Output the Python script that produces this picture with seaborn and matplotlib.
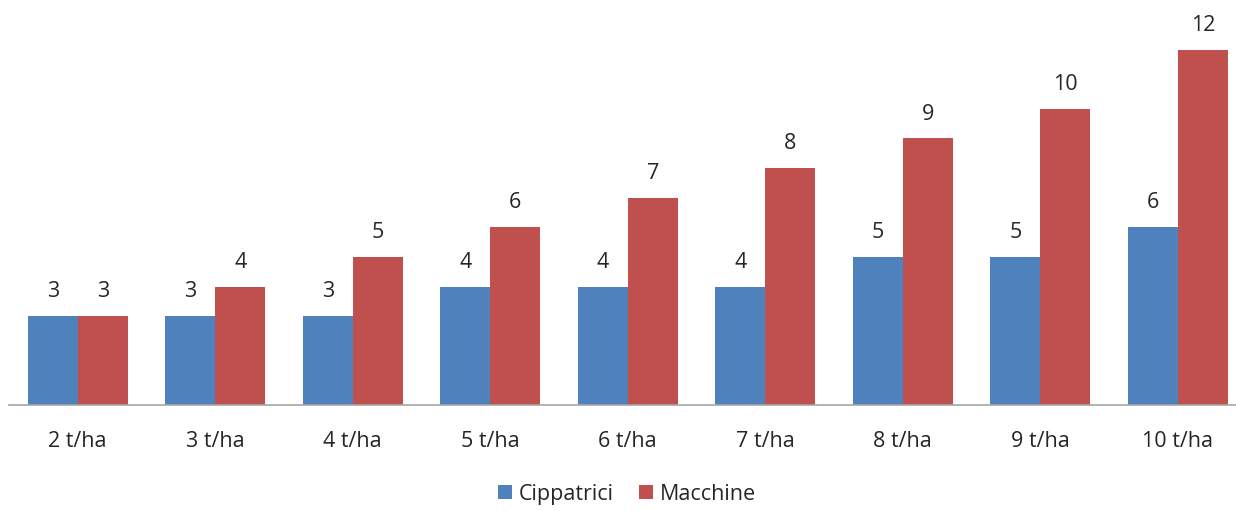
import matplotlib
matplotlib.use("Agg")
import matplotlib.pyplot as plt
import pandas as pd
import seaborn as sns

categories = ["2 t/ha", "3 t/ha", "4 t/ha", "5 t/ha", "6 t/ha", "7 t/ha", "8 t/ha", "9 t/ha", "10 t/ha"]
cippatrici = [3, 3, 3, 4, 4, 4, 5, 5, 6]
macchine = [3, 4, 5, 6, 7, 8, 9, 10, 12]
series = ["Cippatrici", "Macchine"]
colors = ["#4F81BD", "#C0504D"]

df = pd.DataFrame({
    "cat": categories * 2,
    "val": cippatrici + macchine,
    "serie": [series[0]] * len(categories) + [series[1]] * len(categories),
})

sns.set_style("white")
plt.rcParams["font.family"] = ["Open Sans", "DejaVu Sans"]

fig = plt.figure(figsize=(12.36, 5.11), dpi=100)
ax = fig.add_axes([9 / 1236, 106 / 511, 1227 / 1236, 385 / 511])

sns.barplot(data=df, x="cat", y="val", hue="serie", palette=colors,
            order=categories, hue_order=series, width=0.727, gap=0,
            saturation=1, linewidth=0, ax=ax, legend=True)

for cont in ax.containers:
    ax.bar_label(cont, padding=10, fontsize=15.5, color="#262626")

ax.set_xlim(-0.5, -0.5 + 1227 / 137.5)
ax.set_ylim(0, 13)
ax.set_xlabel("")
ax.set_ylabel("")
ax.set_yticks([])
ax.tick_params(axis="x", length=0, pad=19, labelsize=15.5, labelcolor="#262626")
for s in ["top", "left", "right"]:
    ax.spines[s].set_visible(False)
ax.spines["bottom"].set_color("#A6A6A6")
ax.spines["bottom"].set_linewidth(1.2)

handles, labels = ax.get_legend_handles_labels()
ax.legend(handles, labels, loc="center", bbox_to_anchor=(627 / 1236, 17 / 511),
          bbox_transform=fig.transFigure, ncol=2, frameon=False, fontsize=15.5,
          handlelength=0.65, handleheight=0.65, handletextpad=0.3, columnspacing=1.2,
          labelcolor="#262626")

fig.savefig("out.png", dpi=100)
